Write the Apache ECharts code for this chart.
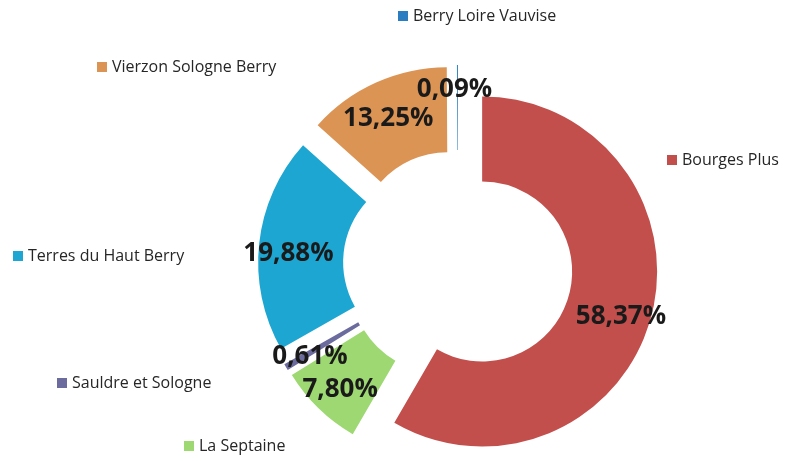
<!DOCTYPE html>
<html>
<head>
<meta charset="utf-8">
<script src="https://cdn.jsdelivr.net/npm/echarts@6/dist/echarts.min.js"></script>
<style>
  html, body { margin: 0; padding: 0; background: #fff; }
  #chart { width: 802px; height: 461px; }
</style>
</head>
<body>
<div id="chart"></div>
<script>
// parts (%), clockwise from 12 o'clock
const names = ["Bourges Plus", "La Septaine", "Sauldre et Sologne", "Terres du Haut Berry", "Vierzon Sologne Berry", "Berry Loire Vauvise"];
const values = [58.37, 7.80, 0.61, 19.88, 13.25, 0.09];
const colors = ["#c24f4c", "#9ed872", "#6b6b9e", "#1ea6d2", "#dc9454", "#2a7dc0"];

// legend keys placed next to each slice, like the original
const legendPos = [
  { left: 667, top: 152 },
  { left: 184, top: 438 },
  { left: 57, top: 375 },
  { left: 13, top: 248 },
  { left: 97, top: 59 },
  { left: 398, top: 8 }
];
// small nudges of the % labels (px)
const labelNudge = [[8, 10], [-6, 9], [-10, 10], [-10, 6], [-4, 0], [-3, -15]];

const chart = echarts.init(document.getElementById("chart"));

const option = {
  color: colors,
  animation: false,
  legend: names.map((n, i) => ({
    data: [n],
    left: legendPos[i].left,
    top: legendPos[i].top,
    orient: "horizontal",
    padding: 0,
    icon: "rect",
    itemWidth: 10,
    itemHeight: 10,
    selectedMode: false,
    textStyle: { fontFamily: "Open Sans", fontSize: 16, color: "#262626" }
  })),
  series: [
    {
      type: "pie",
      center: [458, 265],
      radius: [90, 175],
      startAngle: 90,
      clockwise: true,
      selectedMode: "multiple",
      selectedOffset: 25,
      avoidLabelOverlap: false,
      minShowLabelAngle: 0,
      label: {
        show: true,
        position: "inside",
        fontFamily: "Open Sans",
        fontWeight: "bold",
        fontSize: 26,
        color: "#1a1a1a",
        formatter: p => p.value.toFixed(2).replace(".", ",") + "%"
      },
      labelLayout: p => ({
        hideOverlap: false,
        dx: labelNudge[p.dataIndex][0],
        dy: labelNudge[p.dataIndex][1]
      }),
      labelLine: { show: false },
      emphasis: { disabled: true },
      data: names.map((n, i) => ({ name: n, value: values[i], selected: true }))
    }
  ]
};

chart.setOption(option);
</script>
</body>
</html>
